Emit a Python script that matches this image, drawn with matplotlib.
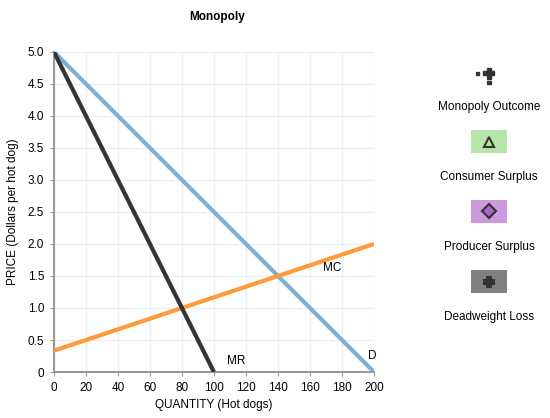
import matplotlib.pyplot as plt
from matplotlib.patches import Rectangle

plt.rcParams['font.family'] = ['Liberation Sans', 'DejaVu Sans']

# Curves (quantity, price endpoints)
demand_q = [0, 200]
demand_p = [5.0, 0.0]
mr_q = [0, 100]
mr_p = [5.0, 0.0]
mc_q = [0, 200]
mc_p = [0.333, 2.0]

x_ticks = list(range(0, 201, 20))
y_ticks = [0, 0.5, 1.0, 1.5, 2.0, 2.5, 3.0, 3.5, 4.0, 4.5, 5.0]
y_labels = ["0", "0.5", "1.0", "1.5", "2.0", "2.5", "3.0", "3.5", "4.0", "4.5", "5.0"]

legend_labels = ["Monopoly Outcome", "Consumer Surplus", "Producer Surplus", "Deadweight Loss"]

fig = plt.figure(figsize=(5.5, 4.18), dpi=100)
ax = fig.add_axes([0.098, 0.110, 0.582, 0.766])

ax.plot(demand_q, demand_p, color="#80b0d6", lw=3, solid_capstyle="butt", zorder=3)
ax.plot(mr_q, mr_p, color="#333333", lw=3, solid_capstyle="butt", zorder=4)
ax.plot(mc_q, mc_p, color="#ff9a3c", lw=3, solid_capstyle="butt", zorder=3)

ax.text(168, 1.62, "MC", fontsize=8.5, va="center", ha="left")
ax.text(199, 0.25, "D", fontsize=8.5, va="center", ha="center")
ax.text(108, 0.17, "MR", fontsize=8.5, va="center", ha="left")

ax.set_xlim(0, 200)
ax.set_ylim(0, 5)
ax.set_xticks(x_ticks)
ax.set_yticks(y_ticks)
ax.set_yticklabels(y_labels)
ax.tick_params(labelsize=8.5, length=3, color="#999999", pad=4)
ax.grid(True, color="#eeeeee", lw=1)
ax.set_axisbelow(True)
for s in ["top", "right"]:
    ax.spines[s].set_visible(False)
for s in ["left", "bottom"]:
    ax.spines[s].set_color("#999999")
    ax.spines[s].set_linewidth(1.5)
ax.set_xlabel("QUANTITY (Hot dogs)", fontsize=8.5, labelpad=4)
ax.set_ylabel("PRICE (Dollars per hot dog)", fontsize=8.5, labelpad=6)

fig.text(217 / 550, 1 - 17 / 418, "Monopoly", fontsize=8.5, fontweight="bold", ha="center", va="center")

# Legend area
W, H = 550, 418
def fx(px):
    return px / W
def fy(py):
    return 1 - py / H

# monopoly outcome icon: small dot + plus
fig.patches.append(Rectangle((fx(476), fy(75)), 3 / W, 3 / H, transform=fig.transFigure, color="#333333"))
fig.patches.append(Rectangle((fx(483), fy(75)), 11 / W, 4 / H, transform=fig.transFigure, color="#333333"))
fig.patches.append(Rectangle((fx(487), fy(79)), 4 / W, 11 / H, transform=fig.transFigure, color="#333333"))
fig.patches.append(Rectangle((fx(487), fy(84)), 4 / W, 3 / H, transform=fig.transFigure, color="#333333"))

boxes = [("#b5e6a8", "^", "#b5e6a8", 130), ("#cc99dd", "D", "#aa66cc", 200), ("#808080", "P", "#333333", 270)]
for face, mk, mface, top in boxes:
    fig.patches.append(Rectangle((fx(471), fy(top + 23)), 36 / W, 23 / H, transform=fig.transFigure,
                                 facecolor=face, edgecolor="none"))
    fig.lines.append(plt.Line2D([fx(489)], [fy(top + 11.5)], transform=fig.transFigure, marker=mk,
                                markersize=7, markerfacecolor=mface, markeredgecolor="#333333",
                                markeredgewidth=1.5, linestyle="none"))

for lab, py in zip(legend_labels, [107, 177, 247, 317]):
    fig.text(fx(489), fy(py), lab, fontsize=8.5, ha="center", va="center")

fig.savefig("out.png", dpi=100)
